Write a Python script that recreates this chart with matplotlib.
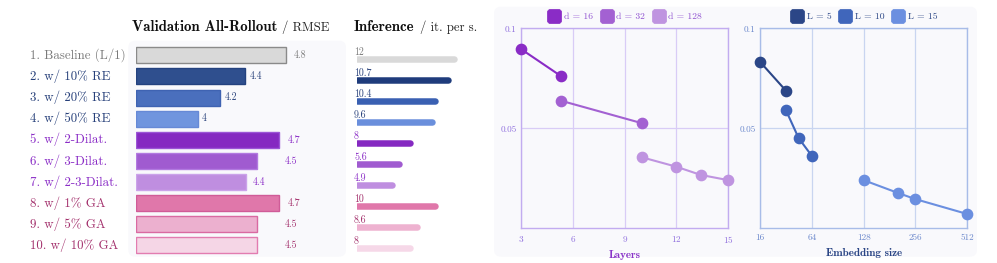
import numpy as np
import matplotlib
matplotlib.use("Agg")
import matplotlib.pyplot as plt
from matplotlib.patches import FancyBboxPatch
from matplotlib.transforms import IdentityTransform
from matplotlib.lines import Line2D
from matplotlib.ticker import NullLocator, NullFormatter

plt.rcParams['font.family'] = ['cmr10', 'DejaVu Serif']
plt.rcParams['axes.unicode_minus'] = False
plt.rcParams['axes.formatter.use_mathtext'] = True

# ---------------- data ----------------
ablation_labels = ["1. Baseline (L/1)", "2. w/ 10% RE", "3. w/ 20% RE", "4. w/ 50% RE",
                   "5. w/ 2-Dilat.", "6. w/ 3-Dilat.", "7. w/ 2-3-Dilat.",
                   "8. w/ 1% GA", "9. w/ 5% GA", "10. w/ 10% GA"]
rmse_values = [4.80, 4.43, 4.20, 4.00, 4.74, 4.54, 4.44, 4.74, 4.54, 4.54]
inference_labels = ["12", "10.7", "10.4", "9.6", "8", "5.6", "4.9", "10", "8.6", "8"]
inference_bar_values = [12.0, 11.21, 9.57, 9.2, 6.52, 5.16, 4.35, 9.57, 7.38, 6.52]

layers_d16_x = [3, 5.33]
layers_d16_y = [0.0866, 0.0717]
layers_d32_x = [5.33, 10]
layers_d32_y = [0.0605, 0.0518]
layers_d128_x = [10, 12, 13.4, 15]
layers_d128_y = [0.0409, 0.0383, 0.0362, 0.0349]

emb_L5_x = [16, 32]
emb_L5_y = [0.0793, 0.0649]
emb_L10_x = [32, 45, 64]
emb_L10_y = [0.0567, 0.0467, 0.0413]
emb_L15_x = [128, 204, 256, 512]
emb_L15_y = [0.0349, 0.0319, 0.0306, 0.0276]

layers_ticks = [3, 6, 9, 12, 15]
emb_ticks = [16, 64, 128, 256, 512]
y_ticks = [0.05, 0.1]
y_ticklabels = ["0.05", "0.1"]

# ---------------- styles ----------------
W, H = 997, 263
bar_fill = ['#d9d9d9', '#2f4f8e', '#4a6fbd', '#7095de', '#8529c1', '#a05bd0', '#bf8ee0',
            '#e077aa', '#ecb0cf', '#f5d6e6']
bar_edge = ['#8a8a8a', '#24427f', '#3f63b2', '#6689d6', '#9b55d6', '#b27ae0', '#cba3ea',
            '#d05c98', '#d96aa2', '#e27cb0']
text_col = ['#7a7a7a', '#27407a', '#27407a', '#27407a', '#8a2cc6', '#8a2cc6', '#8a2cc6',
            '#a3306c', '#a3306c', '#a3306c']
inf_col = ['#d9d9d9', '#1f3c7c', '#3a60b2', '#6a8fdc', '#8529c1', '#a05bd0', '#bf8ee0',
           '#e077aa', '#eeb2d0', '#f6d8e8']
value_pad_px = [8, 5, 5, 4, 8, 27, 6, 8, 27, 27]
panel_bg = '#f9f9fc'


def rect(x0, y0, x1, y1):
    return [x0 / W, 1 - y1 / H, (x1 - x0) / W, (y1 - y0) / H]


fig = plt.figure(figsize=(W / 100, H / 100), dpi=100)
renderer = fig.canvas.get_renderer()


def fit_size(s, family, target_px, base=10.0):
    t = fig.text(0, 0, s, fontfamily=family, fontsize=base)
    w = t.get_window_extent(renderer).width
    t.remove()
    return base * target_px / w


title_fs = fit_size("Validation All-Rollout", 'cmb10', 144.3)
reg_title_fs = fit_size("RMSE", 'cmr10', 36.6)
legend_fs = fit_size("d = 16", 'cmr10', 29.0)
xlabel_fs = fit_size("Embedding size", 'cmb10', 76.7)
tick_fs = fit_size("512", 'cmr10', 14.0)
row_fs = fit_size("2. w/ 10% RE", 'cmr10', 81.0)
inf_fs = fit_size("10.7", 'cmr10', 17.7)
val_fs = fit_size("4.8", 'cmr10', 12.7)

# panels
for (px0, py0, px1, py1) in [(128.3, 40.7, 346, 256.7), (494, 6.7, 977, 256.7)]:
    p = FancyBboxPatch((px0, H - py1), px1 - px0, py1 - py0,
                       boxstyle="round,pad=0,rounding_size=7", transform=IdentityTransform(),
                       facecolor=panel_bg, edgecolor='none', zorder=-5)
    fig.add_artist(p)

# ---------------- RMSE bars ----------------
x0 = 3.44
pxu = 110.0
axb = fig.add_axes(rect(136.3, 44.75, 136.3 + 170, 255.85))
axb.set_xlim(x0, x0 + 170 / pxu)
axb.set_ylim(9.5, -0.5)
axb.axis('off')
rows = np.arange(len(rmse_values))
axb.barh(rows, np.array(rmse_values) - x0, left=x0, height=0.76, color=bar_fill,
         edgecolor=bar_edge, linewidth=1.0)
for i, (lab, v) in enumerate(zip(ablation_labels, rmse_values)):
    axb.annotate(lab, xy=(0, i), xycoords=('axes fraction', 'data'),
                 xytext=(-(136.3 - 29.5) * 0.72, 0), textcoords='offset points',
                 ha='left', va='center', fontsize=row_fs, color=text_col[i])
    s = f"{v:.1f}"
    if s.endswith('.0'):
        s = s[:-2]
    axb.annotate(s, xy=(v, i), xytext=(value_pad_px[i] * 0.72, 0), textcoords='offset points',
                 ha='left', va='center', fontsize=val_fs, color=text_col[i])

# ---------------- Inference bars ----------------
r = 3.25
kinf = 8.1
axi = fig.add_axes(rect(354 + r, 48.5, 354 + r + 130, 258.8))
axi.set_xlim(0, 130 / kinf)
axi.set_ylim(9.5, -0.5)
axi.axis('off')
for i, v in enumerate(inference_bar_values):
    axi.plot([0, v], [i, i], color=inf_col[i], lw=2 * r * 0.72, solid_capstyle='round')
    axi.annotate(inference_labels[i], xy=(0, i), xytext=(-r * 0.72, 4.0 * 0.72),
                 textcoords='offset points', ha='left', va='baseline', fontsize=inf_fs,
                 color=text_col[i])

# ---------------- titles ----------------


def two_part_title(x, bold, rest):
    t = fig.text(x / W, 1 - 30.7 / H, bold, fontfamily='cmb10', fontsize=title_fs,
                 ha='left', va='baseline', color='#111111')
    bb = t.get_window_extent(renderer)
    fig.text((bb.x1 + 5.0) / W, 1 - 30.7 / H, rest, fontsize=reg_title_fs, ha='left',
             va='baseline', color='#222222')


two_part_title(131.7, "Validation All-Rollout", "/ RMSE")
two_part_title(354, "Inference", "/ it. per s.")

# ---------------- rounded square legend marker ----------------
_rb = FancyBboxPatch((-0.5, -0.5), 1, 1, boxstyle="round,pad=0,rounding_size=0.22")
rsq = _rb.get_path()


def style_line_axes(ax, frame, grid, tickc):
    ax.set_facecolor('none')
    for s in ax.spines.values():
        s.set_color(frame)
        s.set_linewidth(1.0)
    ax.set_yscale('log')
    ax.set_ylim(0.025, 0.1)
    ax.set_yticks(y_ticks)
    ax.set_yticklabels(y_ticklabels)
    ax.yaxis.set_minor_locator(NullLocator())
    ax.yaxis.set_minor_formatter(NullFormatter())
    ax.grid(True, color=grid, linewidth=0.9)
    ax.tick_params(length=0, labelsize=tick_fs, labelcolor=tickc)
    ax.tick_params(axis='x', pad=4.0)
    ax.tick_params(axis='y', pad=3.0)
    ax.set_axisbelow(True)


marker_pt = 10.2


def add_legend(ax, labels, colors, tcol):
    handles = [Line2D([], [], linestyle='none', marker=rsq, markersize=marker_pt,
                      markerfacecolor=c, markeredgecolor=c, markeredgewidth=0.5)
               for c in colors]
    leg = ax.legend(handles, labels, ncol=3, loc='center', bbox_to_anchor=(0.5, 1 + 11.3 / 200),
                    frameon=False, fontsize=legend_fs, handlelength=marker_pt / legend_fs,
                    handletextpad=1.6 / legend_fs, columnspacing=5.0 / legend_fs,
                    borderpad=0, borderaxespad=0)
    for t in leg.get_texts():
        t.set_color(tcol)


# Layers
d_cols = ['#8a2cc6', '#a361d2', '#bf94e0']
axL = fig.add_axes(rect(521, 28.3, 728.3, 228.3))
style_line_axes(axL, '#c2acf0', '#d9ccf6', '#9070de')
axL.set_xlim(3, 15)
axL.set_xticks(layers_ticks)
for xs, ys, c in [(layers_d16_x, layers_d16_y, d_cols[0]), (layers_d32_x, layers_d32_y, d_cols[1]),
                  (layers_d128_x, layers_d128_y, d_cols[2])]:
    axL.plot(xs, ys, color=c, lw=1.5, marker='o', markersize=7.4, markeredgecolor=c,
             clip_on=False, zorder=3)
axL.set_xlabel("Layers", fontfamily='cmb10', fontsize=xlabel_fs, color='#8a35c8', labelpad=4)
add_legend(axL, ["d = 16", "d = 32", "d = 128"], d_cols, '#8e4fd0')

# Embedding
L_cols = ['#2b4687', '#4066bb', '#6b8fe0']
knots = np.array([4.0, 6.0, 7.0, 8.0, 9.0])
pos = np.arange(5.0)


def fwd(x):
    x = np.asarray(x, dtype=float)
    return np.interp(np.log2(np.clip(x, 1e-9, None)), knots, pos)


def inv(y):
    return 2.0 ** np.interp(np.asarray(y, dtype=float), pos, knots)


axE = fig.add_axes(rect(760, 28.3, 967.3, 228.3))
style_line_axes(axE, '#a8bce8', '#c9d5f0', '#6b88cc')
axE.set_xscale('function', functions=(fwd, inv))
axE.set_xlim(16, 512)
axE.set_xticks(emb_ticks)
axE.set_xticklabels([str(t) for t in emb_ticks])
axE.xaxis.set_minor_locator(NullLocator())
for xs, ys, c in [(emb_L5_x, emb_L5_y, L_cols[0]), (emb_L10_x, emb_L10_y, L_cols[1]),
                  (emb_L15_x, emb_L15_y, L_cols[2])]:
    axE.plot(xs, ys, color=c, lw=1.5, marker='o', markersize=7.4, markeredgecolor=c,
             clip_on=False, zorder=3)
axE.set_xlabel("Embedding size", fontfamily='cmb10', fontsize=xlabel_fs, color='#2a4585',
               labelpad=4)
add_legend(axE, ["L = 5", "L = 10", "L = 15"], L_cols, '#2a4585')

fig.savefig("out.png", dpi=100, facecolor='white')
